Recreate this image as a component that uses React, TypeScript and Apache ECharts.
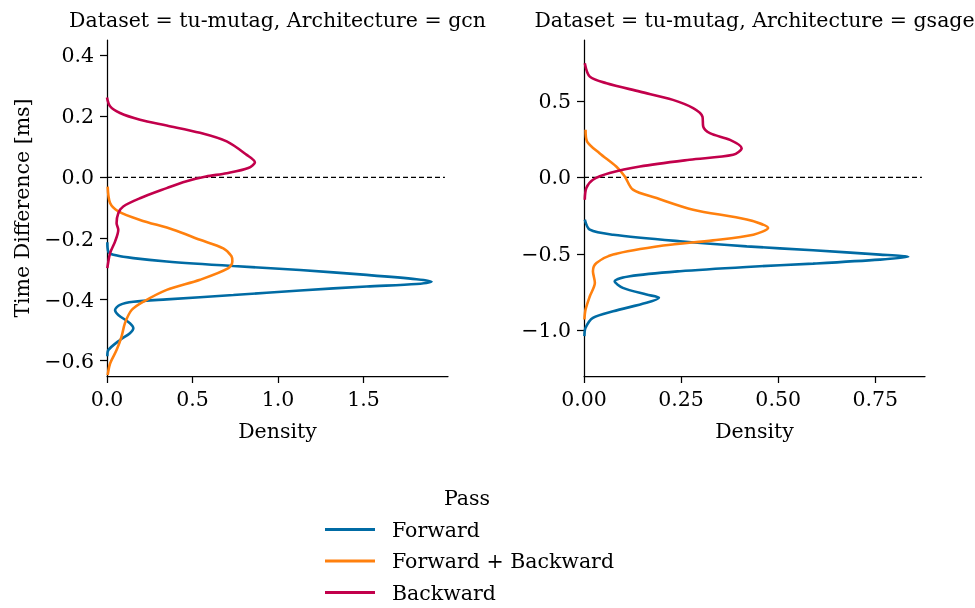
import { useEffect, useRef } from "react";
import * as echarts from "echarts";

// Pass categories, shared by both panels
const passNames = ["Forward", "Forward + Backward", "Backward"];
const passColors = ["#006BA4", "#FF800E", "#C2004B"];
const panelTitles = [
  "Dataset = tu-mutag, Architecture = gcn",
  "Dataset = tu-mutag, Architecture = gsage",
];

// KDE curves, points as [density, time difference in ms]
const gcnForward = [
  [0.002, -0.212], [0.008, -0.243], [0.037, -0.253], [0.154, -0.264], [0.349, -0.275],
  [0.739, -0.29], [1.129, -0.303], [1.518, -0.319], [1.81, -0.333], [1.898, -0.341],
  [1.81, -0.349], [1.518, -0.357], [1.129, -0.37], [0.739, -0.385], [0.349, -0.399],
  [0.154, -0.407], [0.076, -0.417], [0.047, -0.434], [0.066, -0.45], [0.134, -0.477],
  [0.154, -0.494], [0.134, -0.51], [0.076, -0.532], [0.008, -0.565], [0.002, -0.585],
];
const gcnBoth = [
  [0.004, -0.03], [0.018, -0.084], [0.066, -0.111], [0.193, -0.139], [0.388, -0.171],
  [0.544, -0.204], [0.68, -0.232], [0.728, -0.258], [0.733, -0.275], [0.71, -0.297],
  [0.544, -0.335], [0.349, -0.368], [0.212, -0.407], [0.144, -0.434], [0.105, -0.477],
  [0.085, -0.521], [0.056, -0.565], [0.018, -0.609], [0.004, -0.647],
];
const gcnBackward = [
  [0.0, 0.262], [0.018, 0.233], [0.076, 0.211], [0.193, 0.189], [0.349, 0.17],
  [0.544, 0.146], [0.7, 0.118], [0.817, 0.074], [0.865, 0.05], [0.826, 0.031],
  [0.7, 0.014], [0.579, 0.003], [0.46, -0.013], [0.349, -0.035], [0.193, -0.068],
  [0.095, -0.095], [0.066, -0.117], [0.056, -0.15], [0.066, -0.171], [0.047, -0.21],
  [0.018, -0.248], [0.002, -0.297],
];
const gsageForward = [
  [0.002, -0.276], [0.015, -0.342], [0.075, -0.375], [0.247, -0.418], [0.419, -0.451],
  [0.59, -0.477], [0.762, -0.505], [0.835, -0.52], [0.762, -0.538], [0.59, -0.564],
  [0.419, -0.586], [0.247, -0.614], [0.118, -0.647], [0.079, -0.68], [0.1, -0.723],
  [0.161, -0.767], [0.193, -0.788], [0.161, -0.821], [0.075, -0.876], [0.023, -0.919],
  [0.004, -0.984], [0.001, -1.039],
];
const gsageBoth = [
  [0.004, 0.312], [0.008, 0.235], [0.04, 0.159], [0.083, 0.072], [0.105, 0.007],
  [0.126, -0.08], [0.187, -0.135], [0.281, -0.211], [0.419, -0.276], [0.474, -0.331],
  [0.436, -0.375], [0.332, -0.412], [0.204, -0.446], [0.075, -0.505], [0.032, -0.56],
  [0.023, -0.614], [0.028, -0.69], [0.015, -0.778], [0.004, -0.865], [0.001, -0.93],
];
const gsageBackward = [
  [0.002, 0.748], [0.015, 0.66], [0.058, 0.617], [0.144, 0.562], [0.229, 0.508],
  [0.281, 0.454], [0.305, 0.399], [0.307, 0.333], [0.324, 0.29], [0.376, 0.246],
  [0.406, 0.192], [0.384, 0.148], [0.272, 0.116], [0.144, 0.072], [0.066, 0.029],
  [0.023, -0.015], [0.006, -0.069], [0.002, -0.146],
];

const panelCurves = [
  [gcnForward, gcnBoth, gcnBackward],
  [gsageForward, gsageBoth, gsageBackward],
];

// Axis extents and tick positions per panel
const densityRange = [[0, 1.994], [0, 0.878]];
const timeRange = [[-0.65, 0.45], [-1.3, 0.9]];
const densityTicks = [[0, 0.5, 1, 1.5], [0, 0.25, 0.5, 0.75]];
const densityDecimals = [1, 2];
const timeTicks = [[-0.6, -0.4, -0.2, 0, 0.2, 0.4], [-1, -0.5, 0, 0.5]];
// Horizontal reference at zero time difference
const zeroLineDensityEnd = [1.976, 0.87];

const FONT = "DejaVu Serif";
const FS = 20.5;
const grids = [
  { left: 107, top: 40, width: 341, height: 336 },
  { left: 584, top: 40, width: 341, height: 336 },
];

const fmt = (v: number, d: number) => (v < 0 ? "\u2212" : "") + Math.abs(v).toFixed(d);

export default function App() {
  const ref = useRef<HTMLDivElement>(null);

  useEffect(() => {
    if (!ref.current) return;
    const chart = echarts.init(ref.current, undefined, { renderer: "svg" });

    const axisLine = { show: true, onZero: false, lineStyle: { color: "#000", width: 1.25 } };
    const tick = (vals: number[]) => ({
      show: true,
      inside: false,
      length: 7,
      lineStyle: { color: "#000", width: 1.25 },
      customValues: vals,
    });
    const xAxis = grids.map((_, i) => ({
      type: "value",
      gridIndex: i,
      position: "bottom",
      min: densityRange[i][0],
      max: densityRange[i][1],
      name: "Density",
      nameLocation: "middle",
      nameGap: 44,
      nameTextStyle: { fontFamily: FONT, fontSize: FS, color: "#000" },
      axisLine,
      axisTick: tick(densityTicks[i]),
      axisLabel: {
        customValues: densityTicks[i],
        margin: 12,
        fontFamily: FONT,
        fontSize: FS,
        color: "#000",
        formatter: (v: number) => fmt(v, densityDecimals[i]),
      },
      splitLine: { show: false },
    }));
    const yAxis = grids.map((_, i) => ({
      type: "value",
      gridIndex: i,
      position: "left",
      min: timeRange[i][0],
      max: timeRange[i][1],
      name: i === 0 ? "Time Difference [ms]" : "",
      nameLocation: "middle",
      nameGap: 75,
      nameTextStyle: { fontFamily: FONT, fontSize: FS, color: "#000" },
      axisLine,
      axisTick: tick(timeTicks[i]),
      axisLabel: {
        customValues: timeTicks[i],
        margin: 13,
        fontFamily: FONT,
        fontSize: FS,
        color: "#000",
        formatter: (v: number) => fmt(v, 1),
      },
      splitLine: { show: false },
    }));

    const series: any[] = [];
    panelCurves.forEach((curves, p) => {
      series.push({
        type: "line",
        name: "zero",
        xAxisIndex: p,
        yAxisIndex: p,
        data: [[0, 0], [zeroLineDensityEnd[p], 0]],
        symbol: "none",
        silent: true,
        lineStyle: { color: "#000", width: 1.25, type: [5, 3] },
        z: 1,
      });
      curves.forEach((pts, k) => {
        series.push({
          type: "line",
          name: passNames[k],
          xAxisIndex: p,
          yAxisIndex: p,
          data: pts,
          symbol: "none",
          smooth: 0.3,
          color: passColors[k],
          lineStyle: { color: passColors[k], width: 2.6 },
          z: 2,
        });
      });
    });

    chart.setOption({
      animation: false,
      textStyle: { fontFamily: FONT },
      grid: grids.map((g) => ({ ...g, outerBoundsMode: "none" })),
      xAxis,
      yAxis,
      series,
      legend: {
        data: passNames,
        orient: "vertical",
        left: 325,
        top: 519,
        padding: 0,
        icon: "rect",
        itemWidth: 50,
        itemHeight: 3,
        itemGap: 10.5,
        selectedMode: false,
        textStyle: { fontFamily: FONT, fontSize: FS, color: "#000", lineHeight: 20, padding: [0, 0, 0, 12] },
      },
      graphic: [
        ...panelTitles.map((t, i) => ({
          type: "text",
          x: grids[i].left + grids[i].width / 2,
          y: 20,
          style: { text: t, fontFamily: FONT, fontSize: FS, fill: "#000", textAlign: "center", textVerticalAlign: "middle" },
        })),
        {
          type: "text",
          x: 467,
          y: 498,
          style: { text: "Pass", fontFamily: FONT, fontSize: FS, fill: "#000", textAlign: "center", textVerticalAlign: "middle" },
        },
      ],
    });

    return () => chart.dispose();
  }, []);

  return <div ref={ref} style={{ position: "fixed", left: 0, top: 0, width: 975, height: 608 }} />;
}
